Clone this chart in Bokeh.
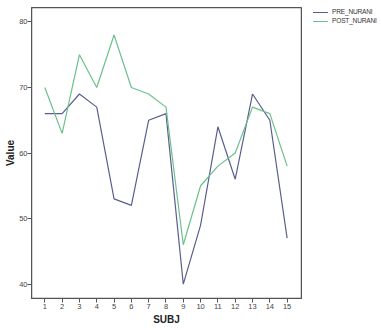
from bokeh.plotting import figure
from bokeh.models import ColumnDataSource, FixedTicker, Range1d, BoxAnnotation, Div
from bokeh.layouts import row
from bokeh.embed import file_html
from bokeh.resources import INLINE

subj = list(range(1, 16))
pre_nurani = [66, 66, 69, 67, 53, 52, 65, 66, 40, 49, 64, 56, 69, 65, 47]
post_nurani = [70, 63, 75, 70, 78, 70, 69, 67, 46, 55, 58, 60, 67, 66, 58]
y_ticks = [40, 50, 60, 70, 80]
series_names = ["PRE_NURANI", "POST_NURANI"]
series_colors = ["#5a5e8e", "#6cc08c"]

src = ColumnDataSource(dict(subj=subj, pre=pre_nurani, post=post_nurani))

FONT = "Liberation Sans"
AX = "#555555"

p = figure(width=302, height=327, output_backend="svg", toolbar_location=None,
           x_range=Range1d(0.23, 15.83), y_range=Range1d(37.8, 82.2),
           min_border_left=31, min_border_right=1, min_border_top=7, min_border_bottom=27)
p.background_fill_color = "white"
p.border_fill_color = "white"
p.outline_line_color = AX
p.outline_line_alpha = 1.0
p.outline_line_width = 1
p.xgrid.visible = False
p.ygrid.visible = False

frame_box = BoxAnnotation(fill_alpha=0, line_color=AX, line_width=1.5, line_alpha=1.0)
p.add_layout(frame_box)

p.line("subj", "pre", source=src, line_color=series_colors[0], line_width=1.2)
p.line("subj", "post", source=src, line_color=series_colors[1], line_width=1.2)

for ax in (p.xaxis[0], p.yaxis[0]):
    ax.axis_line_color = AX
    ax.major_tick_line_color = AX
    ax.minor_tick_line_color = None
    ax.major_tick_out = 4
    ax.major_tick_in = 0
    ax.major_label_text_font = FONT
    ax.major_label_text_font_size = "7.5px"
    ax.major_label_text_color = "#444444"
    ax.major_label_standoff = 1
    ax.axis_label_text_font = FONT
    ax.axis_label_text_font_style = "bold"
    ax.axis_label_text_font_size = "10px"
    ax.axis_label_text_color = "#222222"

p.yaxis.major_label_standoff = 0
p.xaxis.ticker = FixedTicker(ticks=subj)
p.yaxis.ticker = FixedTicker(ticks=y_ticks)
p.xaxis.axis_label = "SUBJ"
p.yaxis.axis_label = "Value"
p.xaxis.axis_label_standoff = 2
p.yaxis.axis_label_standoff = 0

rows_html = "".join(
    f'<div style="height:9px;line-height:9px;white-space:nowrap">'
    f'<span style="display:inline-block;width:15px;height:1px;background:{c};'
    f'vertical-align:middle;margin-right:4px"></span>{n}</div>'
    for n, c in zip(series_names, series_colors)
)
legend_div = Div(
    text=f'<div style="font-family:\'Liberation Sans\';font-size:6.6px;letter-spacing:-0.2px;'
         f'color:#333333;padding-top:7px;padding-left:11px">{rows_html}</div>',
    width=79, height=327, styles={"margin": "0", "padding": "0"})

layout = row(p, legend_div, spacing=0)

open("out.html", "w").write(file_html(layout, INLINE))
